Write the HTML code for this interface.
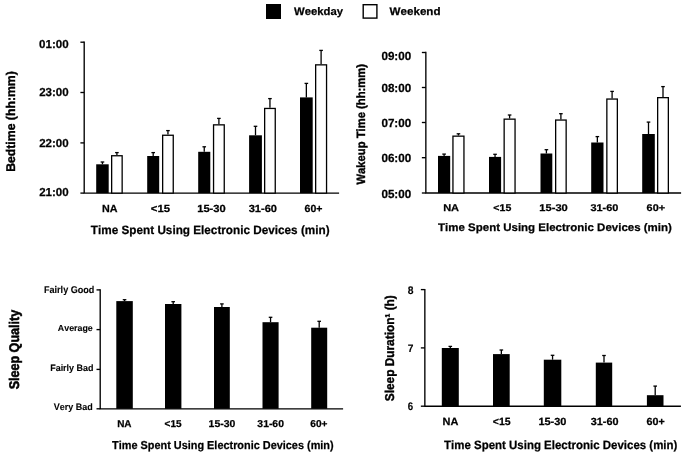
<!DOCTYPE html>
<html><head><meta charset="utf-8"><style>
html,body{margin:0;padding:0;background:#fff;width:685px;height:457px;overflow:hidden}
svg{display:block;filter:grayscale(1)}
text{font-family:"Liberation Sans",sans-serif;fill:#000;font-kerning:none;text-rendering:geometricPrecision}
</style></head><body>
<svg width="685" height="457" viewBox="0 0 685 457">
<defs><filter id="sb" x="-5%" y="-20%" width="110%" height="140%"><feGaussianBlur stdDeviation="0.35"/></filter></defs>
<rect width="685" height="457" fill="#fff"/>
<g id="textlayer" filter="url(#sb)">
<text x="293.99" y="14.80" font-size="11" font-weight="bold" textLength="49.07" lengthAdjust="spacingAndGlyphs" stroke="#000" stroke-width="0.25">Weekday</text>
<text x="389.59" y="14.80" font-size="11" font-weight="bold" textLength="50.98" lengthAdjust="spacingAndGlyphs" stroke="#000" stroke-width="0.25">Weekend</text>
<text x="39.14" y="48.00" font-size="11.5" font-weight="bold" textLength="29.53" lengthAdjust="spacingAndGlyphs" stroke="#000" stroke-width="0.25">01:00</text>
<text x="39.20" y="96.30" font-size="11.5" font-weight="bold" textLength="29.47" lengthAdjust="spacingAndGlyphs" stroke="#000" stroke-width="0.25">23:00</text>
<text x="39.20" y="146.80" font-size="11.5" font-weight="bold" textLength="29.47" lengthAdjust="spacingAndGlyphs" stroke="#000" stroke-width="0.25">22:00</text>
<text x="39.20" y="195.70" font-size="11.5" font-weight="bold" textLength="29.47" lengthAdjust="spacingAndGlyphs" stroke="#000" stroke-width="0.25">21:00</text>
<text x="101.98" y="212.40" font-size="10.3" font-weight="bold" textLength="15.50" lengthAdjust="spacingAndGlyphs" stroke="#000" stroke-width="0.25">NA</text>
<text x="150.82" y="212.40" font-size="10.3" font-weight="bold" textLength="19.19" lengthAdjust="spacingAndGlyphs" stroke="#000" stroke-width="0.25">&lt;15</text>
<text x="197.20" y="212.40" font-size="10.3" font-weight="bold" textLength="28.56" lengthAdjust="spacingAndGlyphs" stroke="#000" stroke-width="0.25">15-30</text>
<text x="248.65" y="212.40" font-size="10.3" font-weight="bold" textLength="28.41" lengthAdjust="spacingAndGlyphs" stroke="#000" stroke-width="0.25">31-60</text>
<text x="304.61" y="212.40" font-size="10.3" font-weight="bold" textLength="17.91" lengthAdjust="spacingAndGlyphs" stroke="#000" stroke-width="0.25">60+</text>
<text x="90.87" y="233.50" font-size="12.0" font-weight="bold" textLength="238.72" lengthAdjust="spacingAndGlyphs" stroke="#000" stroke-width="0.25">Time Spent Using Electronic Devices (min)</text>
<text transform="translate(15.40,171.82) rotate(-90)" x="0" y="0" font-size="12.6" font-weight="bold" textLength="100.63" lengthAdjust="spacingAndGlyphs" stroke="#000" stroke-width="0.4">Bedtime (hh:mm)</text>
<text x="381.44" y="59.80" font-size="11.8" font-weight="bold" textLength="29.74" lengthAdjust="spacingAndGlyphs" stroke="#000" stroke-width="0.25">09:00</text>
<text x="381.44" y="92.10" font-size="11.8" font-weight="bold" textLength="29.74" lengthAdjust="spacingAndGlyphs" stroke="#000" stroke-width="0.25">08:00</text>
<text x="381.44" y="126.50" font-size="11.8" font-weight="bold" textLength="29.74" lengthAdjust="spacingAndGlyphs" stroke="#000" stroke-width="0.25">07:00</text>
<text x="381.44" y="162.20" font-size="11.8" font-weight="bold" textLength="29.74" lengthAdjust="spacingAndGlyphs" stroke="#000" stroke-width="0.25">06:00</text>
<text x="381.44" y="198.20" font-size="11.8" font-weight="bold" textLength="29.74" lengthAdjust="spacingAndGlyphs" stroke="#000" stroke-width="0.25">05:00</text>
<text x="443.16" y="210.80" font-size="9.8" font-weight="bold" textLength="15.93" lengthAdjust="spacingAndGlyphs" stroke="#000" stroke-width="0.25">NA</text>
<text x="493.36" y="210.80" font-size="9.8" font-weight="bold" textLength="17.94" lengthAdjust="spacingAndGlyphs" stroke="#000" stroke-width="0.25">&lt;15</text>
<text x="539.30" y="210.80" font-size="9.8" font-weight="bold" textLength="28.46" lengthAdjust="spacingAndGlyphs" stroke="#000" stroke-width="0.25">15-30</text>
<text x="590.45" y="210.80" font-size="9.8" font-weight="bold" textLength="28.00" lengthAdjust="spacingAndGlyphs" stroke="#000" stroke-width="0.25">31-60</text>
<text x="646.60" y="210.80" font-size="9.8" font-weight="bold" textLength="18.44" lengthAdjust="spacingAndGlyphs" stroke="#000" stroke-width="0.25">60+</text>
<text x="438.07" y="230.60" font-size="11" font-weight="bold" textLength="233.80" lengthAdjust="spacingAndGlyphs" stroke="#000" stroke-width="0.25">Time Spent Using Electronic Devices (min)</text>
<text transform="translate(364.90,184.51) rotate(-90)" x="0" y="0" font-size="12" font-weight="bold" textLength="120.57" lengthAdjust="spacingAndGlyphs" stroke="#000" stroke-width="0.4">Wakeup Time (hh:mm)</text>
<text x="43.99" y="292.60" font-size="9.8" font-weight="bold" textLength="50.40" lengthAdjust="spacingAndGlyphs" stroke="#000" stroke-width="0.1">Fairly Good</text>
<text x="57.88" y="330.80" font-size="8.8" font-weight="bold" textLength="34.92" lengthAdjust="spacingAndGlyphs" stroke="#000" stroke-width="0.1">Average</text>
<text x="50.20" y="370.60" font-size="9.3" font-weight="bold" textLength="43.29" lengthAdjust="spacingAndGlyphs" stroke="#000" stroke-width="0.1">Fairly Bad</text>
<text x="53.84" y="410.30" font-size="9.3" font-weight="bold" textLength="38.95" lengthAdjust="spacingAndGlyphs" stroke="#000" stroke-width="0.1">Very Bad</text>
<text x="117.13" y="426.60" font-size="10" font-weight="bold" textLength="14.43" lengthAdjust="spacingAndGlyphs" stroke="#000" stroke-width="0.25">NA</text>
<text x="164.58" y="426.60" font-size="10" font-weight="bold" textLength="17.00" lengthAdjust="spacingAndGlyphs" stroke="#000" stroke-width="0.25">&lt;15</text>
<text x="208.64" y="426.60" font-size="10" font-weight="bold" textLength="26.69" lengthAdjust="spacingAndGlyphs" stroke="#000" stroke-width="0.25">15-30</text>
<text x="257.36" y="426.60" font-size="10" font-weight="bold" textLength="26.56" lengthAdjust="spacingAndGlyphs" stroke="#000" stroke-width="0.25">31-60</text>
<text x="310.33" y="426.60" font-size="10" font-weight="bold" textLength="17.18" lengthAdjust="spacingAndGlyphs" stroke="#000" stroke-width="0.25">60+</text>
<text x="112.08" y="448.70" font-size="11.5" font-weight="bold" textLength="221.56" lengthAdjust="spacingAndGlyphs" stroke="#000" stroke-width="0.25">Time Spent Using Electronic Devices (min)</text>
<text transform="translate(18.50,389.36) rotate(-90)" x="0" y="0" font-size="14" font-weight="bold" textLength="79.53" lengthAdjust="spacingAndGlyphs" stroke="#000" stroke-width="0.55">Sleep Quality</text>
<text x="407.67" y="293.70" font-size="11" font-weight="bold" textLength="5.75" lengthAdjust="spacingAndGlyphs" stroke="#000" stroke-width="0.12">8</text>
<text x="407.66" y="351.70" font-size="11" font-weight="bold" textLength="5.69" lengthAdjust="spacingAndGlyphs" stroke="#000" stroke-width="0.12">7</text>
<text x="407.84" y="409.90" font-size="11" font-weight="bold" textLength="5.41" lengthAdjust="spacingAndGlyphs" stroke="#000" stroke-width="0.12">6</text>
<text x="442.57" y="425.45" font-size="10.4" font-weight="bold" textLength="15.82" lengthAdjust="spacingAndGlyphs" stroke="#000" stroke-width="0.25">NA</text>
<text x="492.76" y="425.45" font-size="10.4" font-weight="bold" textLength="17.83" lengthAdjust="spacingAndGlyphs" stroke="#000" stroke-width="0.25">&lt;15</text>
<text x="538.41" y="425.45" font-size="10.4" font-weight="bold" textLength="28.04" lengthAdjust="spacingAndGlyphs" stroke="#000" stroke-width="0.25">15-30</text>
<text x="590.75" y="425.45" font-size="10.4" font-weight="bold" textLength="27.69" lengthAdjust="spacingAndGlyphs" stroke="#000" stroke-width="0.25">31-60</text>
<text x="646.61" y="425.45" font-size="10.4" font-weight="bold" textLength="18.23" lengthAdjust="spacingAndGlyphs" stroke="#000" stroke-width="0.25">60+</text>
<text x="444.07" y="448.70" font-size="12" font-weight="bold" textLength="233.30" lengthAdjust="spacingAndGlyphs" stroke="#000" stroke-width="0.25">Time Spent Using Electronic Devices (min)</text>
<text transform="translate(393.60,401.24) rotate(-90)" x="0" y="0" font-size="12.8" font-weight="bold" textLength="106.03" lengthAdjust="spacingAndGlyphs" stroke="#000" stroke-width="0.4">Sleep Duration¹ (h)</text>
</g>
<rect x="266" y="4" width="15" height="15" fill="#000"/>
<rect x="363.2" y="4.7" width="13.7" height="13.4" fill="#fff" stroke="#000" stroke-width="1.4"/>
<path d="M84.2 41.53 V193.1 H339.1" stroke="#000" stroke-width="1.35" fill="none"/>
<path d="M80.4 42.2 H84.2" stroke="#000" stroke-width="1.35" fill="none"/>
<path d="M80.4 92.5 H84.2" stroke="#000" stroke-width="1.35" fill="none"/>
<path d="M80.4 142.9 H84.2" stroke="#000" stroke-width="1.35" fill="none"/>
<path d="M80.4 193.1 H84.2" stroke="#000" stroke-width="1.35" fill="none"/>
<path d="M102.45 164.3 V162.00" stroke="#000" stroke-width="1.3"/>
<path d="M100.65 162.00 H104.25" stroke="#000" stroke-width="1.3"/>
<rect x="96.2" y="164.3" width="12.50" height="28.80" fill="#000"/>
<path d="M116.90 155.1 V152.60" stroke="#000" stroke-width="1.3"/>
<path d="M115.10 152.60 H118.70" stroke="#000" stroke-width="1.3"/>
<rect x="111.65" y="155.75" width="10.50" height="37.35" fill="#fff" stroke="#000" stroke-width="1.3"/>
<path d="M153.20 156 V152.60" stroke="#000" stroke-width="1.3"/>
<path d="M151.40 152.60 H155.00" stroke="#000" stroke-width="1.3"/>
<rect x="147.2" y="156" width="12.00" height="37.10" fill="#000"/>
<path d="M167.95 134.6 V130.60" stroke="#000" stroke-width="1.3"/>
<path d="M166.15 130.60 H169.75" stroke="#000" stroke-width="1.3"/>
<rect x="162.65" y="135.25" width="10.60" height="57.85" fill="#fff" stroke="#000" stroke-width="1.3"/>
<path d="M204.25 151.8 V146.80" stroke="#000" stroke-width="1.3"/>
<path d="M202.45 146.80 H206.05" stroke="#000" stroke-width="1.3"/>
<rect x="198.2" y="151.8" width="12.10" height="41.30" fill="#000"/>
<path d="M218.90 124.2 V118.40" stroke="#000" stroke-width="1.3"/>
<path d="M217.10 118.40 H220.70" stroke="#000" stroke-width="1.3"/>
<rect x="213.55" y="124.85" width="10.70" height="68.25" fill="#fff" stroke="#000" stroke-width="1.3"/>
<path d="M255.50 135.3 V126.30" stroke="#000" stroke-width="1.3"/>
<path d="M253.70 126.30 H257.30" stroke="#000" stroke-width="1.3"/>
<rect x="249.1" y="135.3" width="12.80" height="57.80" fill="#000"/>
<path d="M269.95 107.8 V98.60" stroke="#000" stroke-width="1.3"/>
<path d="M268.15 98.60 H271.75" stroke="#000" stroke-width="1.3"/>
<rect x="264.65" y="108.45" width="10.60" height="84.65" fill="#fff" stroke="#000" stroke-width="1.3"/>
<path d="M306.35 97.4 V83.40" stroke="#000" stroke-width="1.3"/>
<path d="M304.55 83.40 H308.15" stroke="#000" stroke-width="1.3"/>
<rect x="300" y="97.4" width="12.70" height="95.70" fill="#000"/>
<path d="M321.10 64.2 V50.40" stroke="#000" stroke-width="1.3"/>
<path d="M319.30 50.40 H322.90" stroke="#000" stroke-width="1.3"/>
<rect x="315.65" y="64.85" width="10.90" height="128.25" fill="#fff" stroke="#000" stroke-width="1.3"/>
<path d="M425.85 51.83 V193.0 H681.1" stroke="#000" stroke-width="1.35" fill="none"/>
<path d="M421.85 52.5 H425.85" stroke="#000" stroke-width="1.35" fill="none"/>
<path d="M421.85 87.5 H425.85" stroke="#000" stroke-width="1.35" fill="none"/>
<path d="M421.85 122.5 H425.85" stroke="#000" stroke-width="1.35" fill="none"/>
<path d="M421.85 157.7 H425.85" stroke="#000" stroke-width="1.35" fill="none"/>
<path d="M421.85 193.0 H425.85" stroke="#000" stroke-width="1.35" fill="none"/>
<path d="M444.10 155.9 V154.10" stroke="#000" stroke-width="1.3"/>
<path d="M442.30 154.10 H445.90" stroke="#000" stroke-width="1.3"/>
<rect x="438" y="155.9" width="12.20" height="37.10" fill="#000"/>
<path d="M458.45 135.5 V133.80" stroke="#000" stroke-width="1.3"/>
<path d="M456.65 133.80 H460.25" stroke="#000" stroke-width="1.3"/>
<rect x="452.95" y="136.15" width="11.00" height="56.85" fill="#fff" stroke="#000" stroke-width="1.3"/>
<path d="M495.05 156.9 V154.30" stroke="#000" stroke-width="1.3"/>
<path d="M493.25 154.30 H496.85" stroke="#000" stroke-width="1.3"/>
<rect x="489" y="156.9" width="12.10" height="36.10" fill="#000"/>
<path d="M509.60 118.5 V115.00" stroke="#000" stroke-width="1.3"/>
<path d="M507.80 115.00 H511.40" stroke="#000" stroke-width="1.3"/>
<rect x="504.15" y="119.15" width="10.90" height="73.85" fill="#fff" stroke="#000" stroke-width="1.3"/>
<path d="M546.40 153.5 V149.70" stroke="#000" stroke-width="1.3"/>
<path d="M544.60 149.70 H548.20" stroke="#000" stroke-width="1.3"/>
<rect x="540.5" y="153.5" width="11.80" height="39.50" fill="#000"/>
<path d="M560.90 119.4 V113.70" stroke="#000" stroke-width="1.3"/>
<path d="M559.10 113.70 H562.70" stroke="#000" stroke-width="1.3"/>
<rect x="555.65" y="120.05" width="10.50" height="72.95" fill="#fff" stroke="#000" stroke-width="1.3"/>
<path d="M597.35 142.5 V136.60" stroke="#000" stroke-width="1.3"/>
<path d="M595.55 136.60 H599.15" stroke="#000" stroke-width="1.3"/>
<rect x="591.2" y="142.5" width="12.30" height="50.50" fill="#000"/>
<path d="M612.10 98.4 V91.40" stroke="#000" stroke-width="1.3"/>
<path d="M610.30 91.40 H613.90" stroke="#000" stroke-width="1.3"/>
<rect x="606.85" y="99.05" width="10.50" height="93.95" fill="#fff" stroke="#000" stroke-width="1.3"/>
<path d="M648.50 134 V122.10" stroke="#000" stroke-width="1.3"/>
<path d="M646.70 122.10 H650.30" stroke="#000" stroke-width="1.3"/>
<rect x="642.2" y="134" width="12.60" height="59.00" fill="#000"/>
<path d="M663.00 97 V86.60" stroke="#000" stroke-width="1.3"/>
<path d="M661.20 86.60 H664.80" stroke="#000" stroke-width="1.3"/>
<rect x="657.65" y="97.65" width="10.70" height="95.35" fill="#fff" stroke="#000" stroke-width="1.3"/>
<path d="M100.2 289.22 V408.8 H343.1" stroke="#000" stroke-width="1.35" fill="none"/>
<path d="M96.5 289.9 H100.2" stroke="#000" stroke-width="1.35" fill="none"/>
<path d="M96.5 329.6 H100.2" stroke="#000" stroke-width="1.35" fill="none"/>
<path d="M96.5 369.4 H100.2" stroke="#000" stroke-width="1.35" fill="none"/>
<path d="M96.5 408.8 H100.2" stroke="#000" stroke-width="1.35" fill="none"/>
<path d="M124.55 301.1 V299.70" stroke="#000" stroke-width="1.3"/>
<path d="M122.75 299.70 H126.35" stroke="#000" stroke-width="1.3"/>
<rect x="116.3" y="301.1" width="16.50" height="107.70" fill="#000"/>
<path d="M173.20 304 V301.70" stroke="#000" stroke-width="1.3"/>
<path d="M171.40 301.70 H175.00" stroke="#000" stroke-width="1.3"/>
<rect x="165" y="304" width="16.40" height="104.80" fill="#000"/>
<path d="M221.90 307 V303.90" stroke="#000" stroke-width="1.3"/>
<path d="M220.10 303.90 H223.70" stroke="#000" stroke-width="1.3"/>
<rect x="214" y="307" width="15.80" height="101.80" fill="#000"/>
<path d="M270.55 322.2 V317.30" stroke="#000" stroke-width="1.3"/>
<path d="M268.75 317.30 H272.35" stroke="#000" stroke-width="1.3"/>
<rect x="262.5" y="322.2" width="16.10" height="86.60" fill="#000"/>
<path d="M319.20 327.7 V321.30" stroke="#000" stroke-width="1.3"/>
<path d="M317.40 321.30 H321.00" stroke="#000" stroke-width="1.3"/>
<rect x="311.2" y="327.7" width="16.00" height="81.10" fill="#000"/>
<path d="M424.85 288.93 V406.2 H680.9" stroke="#000" stroke-width="1.35" fill="none"/>
<path d="M420.85 289.6 H424.85" stroke="#000" stroke-width="1.35" fill="none"/>
<path d="M420.85 347.9 H424.85" stroke="#000" stroke-width="1.35" fill="none"/>
<path d="M420.85 406.2 H424.85" stroke="#000" stroke-width="1.35" fill="none"/>
<path d="M450.30 348 V346.40" stroke="#000" stroke-width="1.3"/>
<path d="M448.50 346.40 H452.10" stroke="#000" stroke-width="1.3"/>
<rect x="441.8" y="348" width="17.00" height="58.20" fill="#000"/>
<path d="M501.35 354.1 V350.00" stroke="#000" stroke-width="1.3"/>
<path d="M499.55 350.00 H503.15" stroke="#000" stroke-width="1.3"/>
<rect x="493" y="354.1" width="16.70" height="52.10" fill="#000"/>
<path d="M552.55 359.7 V355.30" stroke="#000" stroke-width="1.3"/>
<path d="M550.75 355.30 H554.35" stroke="#000" stroke-width="1.3"/>
<rect x="543.8" y="359.7" width="17.50" height="46.50" fill="#000"/>
<path d="M604.00 362.6 V355.50" stroke="#000" stroke-width="1.3"/>
<path d="M602.20 355.50 H605.80" stroke="#000" stroke-width="1.3"/>
<rect x="595.8" y="362.6" width="16.40" height="43.60" fill="#000"/>
<path d="M655.20 395.2 V386.10" stroke="#000" stroke-width="1.3"/>
<path d="M653.40 386.10 H657.00" stroke="#000" stroke-width="1.3"/>
<rect x="646.9" y="395.2" width="16.60" height="11.00" fill="#000"/>
</svg>
</body></html>
